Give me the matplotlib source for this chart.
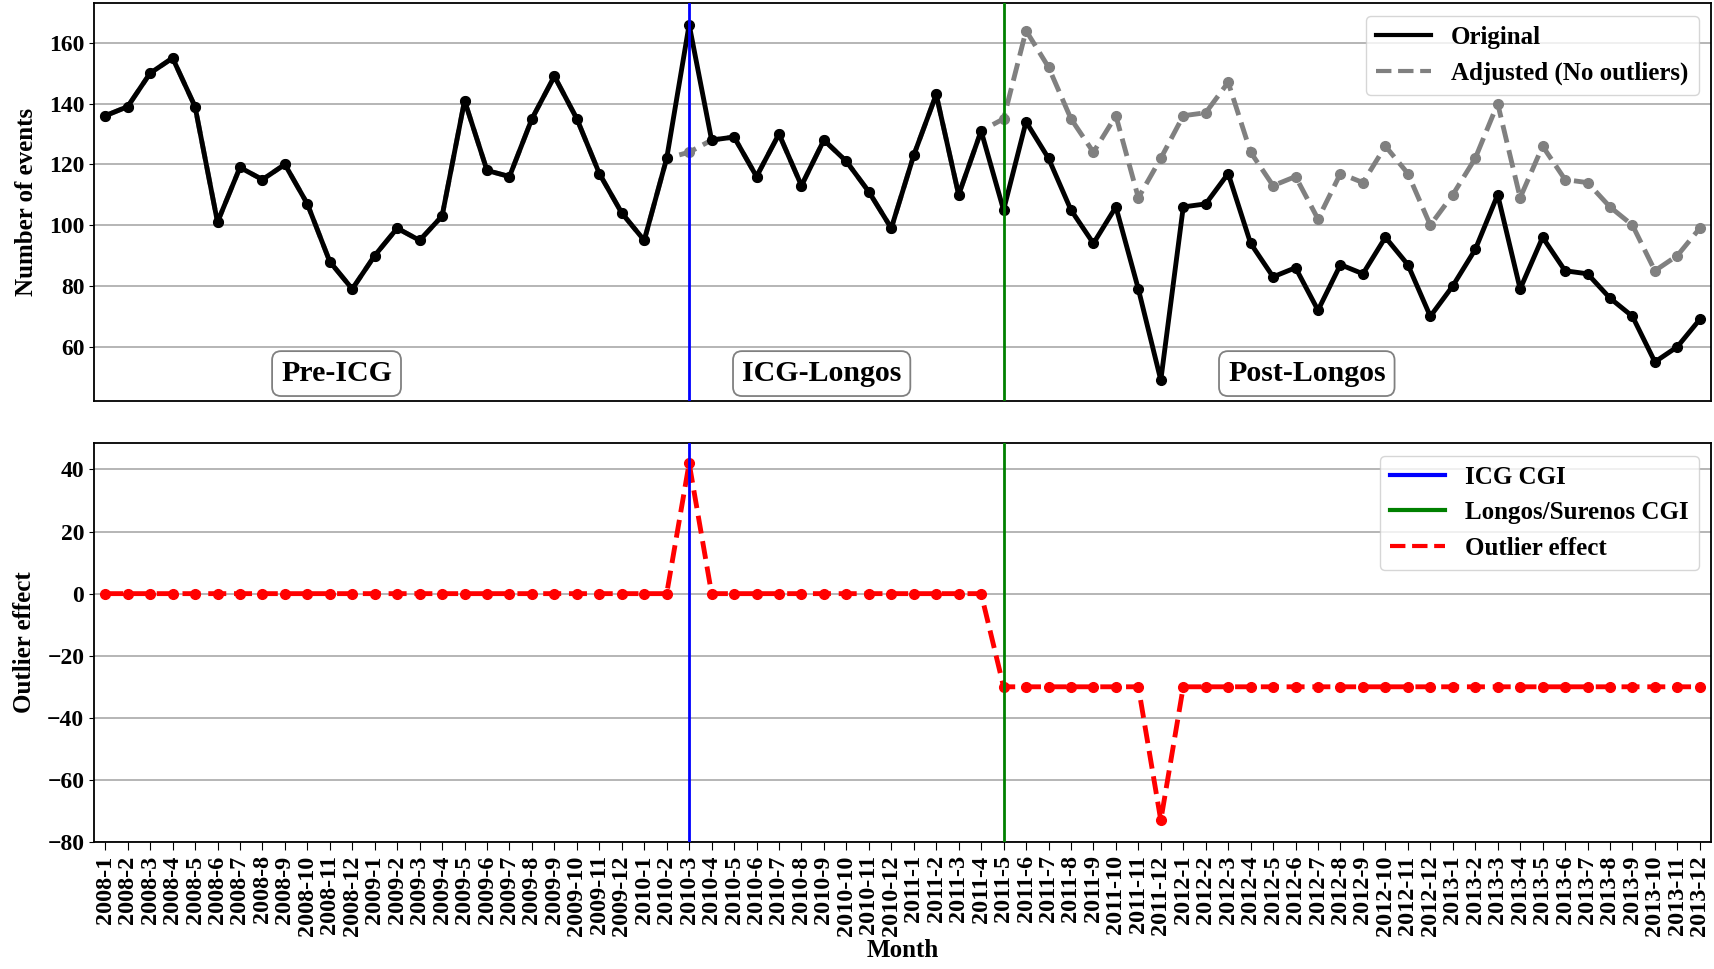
"""
Monthly event counts 2008-2013 with the outlier adjustment for the two
gang injunctions (ICG CGI and Longos/Surenos CGI).
"""

import matplotlib
matplotlib.use("Agg")
import matplotlib.pyplot as plt
from matplotlib.lines import Line2D

# ── Data ───────────────────────────────────────────────────────────────────────
months = [f"{y}-{m}" for y in range(2008, 2014) for m in range(1, 13)]

original = [136, 139, 150, 155, 139, 101, 119, 115, 120, 107, 88, 79,
            90, 99, 95, 103, 141, 118, 116, 135, 149, 135, 117, 104,
            95, 122, 166, 128, 129, 116, 130, 113, 128, 121, 111, 99,
            123, 143, 110, 131, 105, 134, 122, 105, 94, 106, 79, 49,
            106, 107, 117, 94, 83, 86, 72, 87, 84, 96, 87, 70,
            80, 92, 110, 79, 96, 85, 84, 76, 70, 55, 60, 69]

adjusted = [136, 139, 150, 155, 139, 101, 119, 115, 120, 107, 88, 79,
            90, 99, 95, 103, 141, 118, 116, 135, 149, 135, 117, 104,
            95, 122, 124, 128, 129, 116, 130, 113, 128, 121, 111, 99,
            123, 143, 110, 131, 135, 164, 152, 135, 124, 136, 109, 122,
            136, 137, 147, 124, 113, 116, 102, 117, 114, 126, 117, 100,
            110, 122, 140, 109, 126, 115, 114, 106, 100, 85, 90, 99]

outlier_effect = [0] * 26 + [42] + [0] * 13 + [-30] * 7 + [-73] + [-30] * 24

icg_month = "2010-3"
longos_month = "2011-5"

periods = ["Pre-ICG", "ICG-Longos", "Post-Longos"]
period_xpos = [0.15, 0.45, 0.75]

# ── Style ──────────────────────────────────────────────────────────────────────
plt.rcParams["font.family"] = ["Liberation Serif", "DejaVu Serif"]
plt.rcParams["font.weight"] = "bold"
plt.rcParams["axes.labelweight"] = "bold"
plt.rcParams["font.size"] = 17
plt.rcParams["axes.labelsize"] = 18
plt.rcParams["xtick.labelsize"] = 17.5
plt.rcParams["ytick.labelsize"] = 17

LW = 3.5
MS = 7

x = list(range(len(months)))
x_icg = months.index(icg_month)
x_longos = months.index(longos_month)

fig = plt.figure(figsize=(17.15, 9.69), dpi=100)
ax1 = fig.add_axes([0.0548, 0.5857, 0.9429, 0.4109])
ax2 = fig.add_axes([0.0548, 0.1310, 0.9429, 0.4118], sharex=ax1)

# ── Top panel: event counts ───────────────────────────────────────────────────
ax1.plot(x, adjusted, color="gray", ls="--", lw=LW, marker="o", ms=MS, zorder=2)
ax1.plot(x, original, color="black", ls="-", lw=LW, marker="o", ms=MS, zorder=3)
ax1.axvline(x_icg, color="blue", lw=2, zorder=4)
ax1.axvline(x_longos, color="green", lw=2, zorder=4)

for label, xp in zip(periods, period_xpos):
    ax1.text(xp, 0.07, label, transform=ax1.transAxes, ha="center", va="center",
             fontsize=21.5, fontweight="bold",
             bbox=dict(boxstyle="round,pad=0.3", fc="white", ec="gray", lw=1.3))

ax1.set_ylim(42, 173)
ax1.set_yticks(range(60, 161, 20))
ax1.set_ylabel("Number of events", labelpad=8)
ax1.yaxis.grid(True, color="#b0b0b0", lw=1.3)
ax1.set_axisbelow(True)
ax1.tick_params(axis="x", bottom=False, labelbottom=False)

top_handles = [Line2D([], [], color="black", lw=3),
               Line2D([], [], color="gray", lw=3, ls="--")]
ax1.legend(top_handles, ["Original", "Adjusted (No outliers)"], loc="upper right",
           fontsize=18, handlelength=2.2)

# ── Bottom panel: outlier effect ──────────────────────────────────────────────
ax2.plot(x, outlier_effect, color="red", ls="--", lw=LW, marker="o", ms=MS, zorder=3)
ax2.axvline(x_icg, color="blue", lw=2, zorder=4)
ax2.axvline(x_longos, color="green", lw=2, zorder=4)

ax2.set_ylim(-80, 48.5)
ax2.set_yticks(range(-80, 41, 20))
ax2.set_ylabel("Outlier effect", labelpad=8)
ax2.set_xlabel("Month", labelpad=2)
ax2.yaxis.grid(True, color="#b0b0b0", lw=1.3)
ax2.set_axisbelow(True)

ax2.set_xlim(-0.5, len(months) - 0.5)
ax2.set_xticks(x)
ax2.set_xticklabels(months, rotation=90)
ax2.tick_params(axis="x", length=6)

bottom_handles = [Line2D([], [], color="blue", lw=3),
                  Line2D([], [], color="green", lw=3),
                  Line2D([], [], color="red", lw=3, ls="--")]
ax2.legend(bottom_handles, ["ICG CGI", "Longos/Surenos CGI", "Outlier effect"],
           loc="upper right", fontsize=18, handlelength=2.2)

for ax in (ax1, ax2):
    for spine in ax.spines.values():
        spine.set_linewidth(1.3)

fig.savefig("out.png", dpi=100)
plt.close(fig)
